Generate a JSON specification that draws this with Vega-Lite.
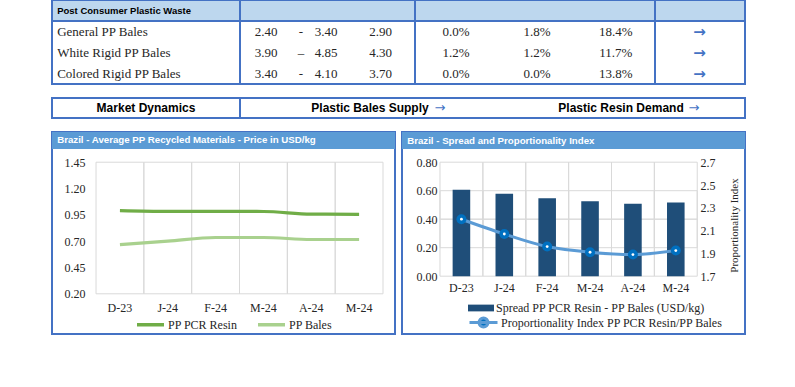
{
  "$schema": "https://vega.github.io/schema/vega-lite/v6.json",
  "padding": {"left": 50, "top": -2, "right": 0, "bottom": 0},
  "background": "white",
  "spacing": 14,
  "bounds": "flush",
  "config": {"view": {"stroke": null}, "font": "Liberation Serif"},
  "vconcat": [
    {
      "width": 693,
      "height": 84,
      "view": {"stroke": "#4472C4", "strokeWidth": 2},
      "data": {"values": [
        {"item": "General PP Bales", "low": 2.40, "sep": "-", "high": 3.40, "avg": 2.90, "ch1": 0.000, "ch2": 0.018, "ch3": 0.184, "trend": "→"},
        {"item": "White Rigid PP Bales", "low": 3.90, "sep": "–", "high": 4.85, "avg": 4.30, "ch1": 0.012, "ch2": 0.012, "ch3": 0.117, "trend": "→"},
        {"item": "Colored Rigid PP Bales", "low": 3.40, "sep": "-", "high": 4.10, "avg": 3.70, "ch1": 0.000, "ch2": 0.000, "ch3": 0.138, "trend": "→"}
      ]},
      "layer": [
        {
          "data": {"values": [{"item": "Post Consumer Plastic Waste"}]},
          "mark": {"type": "rect", "fill": "#BDD7EE", "stroke": "#4472C4", "strokeWidth": 2},
          "encoding": {
            "y": {"field": "item", "type": "nominal", "axis": null, "scale": {"domain": ["Post Consumer Plastic Waste", "General PP Bales", "White Rigid PP Bales", "Colored Rigid PP Bales"], "paddingInner": 0, "paddingOuter": 0}}
          }
        },
        {
          "data": {"values": [{"item": "Post Consumer Plastic Waste"}]},
          "mark": {"type": "text", "align": "left", "font": "Liberation Sans", "fontWeight": "bold", "fontSize": 9.5, "color": "#000000"},
          "encoding": {
            "y": {"field": "item", "type": "nominal"},
            "x": {"datum": 0.75, "type": "quantitative", "axis": null, "scale": {"domain": [0, 100], "nice": false, "zero": false}},
            "text": {"field": "item"}
          }
        },
        {"mark": {"type": "rule", "color": "#4472C4", "strokeWidth": 2}, "encoding": {"x": {"datum": 27.13, "type": "quantitative"}}},
        {"mark": {"type": "rule", "color": "#4472C4", "strokeWidth": 2}, "encoding": {"x": {"datum": 52.38, "type": "quantitative"}}},
        {"mark": {"type": "rule", "color": "#4472C4", "strokeWidth": 2}, "encoding": {"x": {"datum": 87.01, "type": "quantitative"}}},
        {"mark": {"type": "text", "align": "left", "fontSize": 13, "color": "#262626"}, "encoding": {"y": {"field": "item", "type": "nominal"}, "x": {"datum": 0.75, "type": "quantitative"}, "text": {"field": "item"}}},
        {"mark": {"type": "text", "fontSize": 13, "color": "#262626"}, "encoding": {"y": {"field": "item", "type": "nominal"}, "x": {"datum": 30.9, "type": "quantitative"}, "text": {"field": "low", "type": "quantitative", "format": ".2f"}}},
        {"mark": {"type": "text", "fontSize": 13, "color": "#262626"}, "encoding": {"y": {"field": "item", "type": "nominal"}, "x": {"datum": 35.93, "type": "quantitative"}, "text": {"field": "sep"}}},
        {"mark": {"type": "text", "fontSize": 13, "color": "#262626"}, "encoding": {"y": {"field": "item", "type": "nominal"}, "x": {"datum": 39.54, "type": "quantitative"}, "text": {"field": "high", "type": "quantitative", "format": ".2f"}}},
        {"mark": {"type": "text", "fontSize": 13, "color": "#262626"}, "encoding": {"y": {"field": "item", "type": "nominal"}, "x": {"datum": 47.43, "type": "quantitative"}, "text": {"field": "avg", "type": "quantitative", "format": ".2f"}}},
        {"mark": {"type": "text", "fontSize": 13, "color": "#262626"}, "encoding": {"y": {"field": "item", "type": "nominal"}, "x": {"datum": 58.32, "type": "quantitative"}, "text": {"field": "ch1", "type": "quantitative", "format": ".1%"}}},
        {"mark": {"type": "text", "fontSize": 13, "color": "#262626"}, "encoding": {"y": {"field": "item", "type": "nominal"}, "x": {"datum": 69.99, "type": "quantitative"}, "text": {"field": "ch2", "type": "quantitative", "format": ".1%"}}},
        {"mark": {"type": "text", "fontSize": 13, "color": "#262626"}, "encoding": {"y": {"field": "item", "type": "nominal"}, "x": {"datum": 81.36, "type": "quantitative"}, "text": {"field": "ch3", "type": "quantitative", "format": ".1%"}}},
        {"mark": {"type": "text", "fontSize": 15, "fontWeight": "bold", "font": "DejaVu Sans", "color": "#4472C4"}, "encoding": {"y": {"field": "item", "type": "nominal"}, "x": {"datum": 93.43, "type": "quantitative"}, "text": {"field": "trend"}}}
      ]
    },
    {
      "width": 693,
      "height": 20,
      "view": {"stroke": "#4472C4", "strokeWidth": 2},
      "data": {"values": [{"heading": "Market Dynamics", "supply": "Plastic Bales Supply", "demand": "Plastic Resin Demand", "arrow": "→"}]},
      "layer": [
        {"mark": {"type": "rule", "color": "#4472C4", "strokeWidth": 2}, "encoding": {"x": {"datum": 27.13, "type": "quantitative", "axis": null, "scale": {"domain": [0, 100], "nice": false, "zero": false}}}},
        {"mark": {"type": "text", "font": "Liberation Sans", "fontWeight": "bold", "fontSize": 12, "color": "#000000"}, "encoding": {"x": {"datum": 13.56, "type": "quantitative"}, "text": {"field": "heading"}}},
        {"mark": {"type": "text", "font": "Liberation Sans", "fontWeight": "bold", "fontSize": 12, "color": "#000000"}, "encoding": {"x": {"datum": 45.89, "type": "quantitative"}, "text": {"field": "supply"}}},
        {"mark": {"type": "text", "font": "DejaVu Sans", "fontSize": 13, "color": "#4472C4"}, "encoding": {"x": {"datum": 55.99, "type": "quantitative"}, "text": {"field": "arrow"}}},
        {"mark": {"type": "text", "font": "Liberation Sans", "fontWeight": "bold", "fontSize": 12, "color": "#000000"}, "encoding": {"x": {"datum": 82.11, "type": "quantitative"}, "text": {"field": "demand"}}},
        {"mark": {"type": "text", "font": "DejaVu Sans", "fontSize": 13, "color": "#4472C4"}, "encoding": {"x": {"datum": 92.64, "type": "quantitative"}, "text": {"field": "arrow"}}}
      ]
    },
    {
      "spacing": 7,
      "bounds": "flush",
      "hconcat": [
        {
          "width": 343,
          "height": 202,
          "view": {"stroke": "#4472C4", "strokeWidth": 2},
          "data": {"values": [
            {"month": "2023-12", "series": "PP PCR Resin", "price": 0.990},
            {"month": "2024-01", "series": "PP PCR Resin", "price": 0.983},
            {"month": "2024-02", "series": "PP PCR Resin", "price": 0.983},
            {"month": "2024-03", "series": "PP PCR Resin", "price": 0.982},
            {"month": "2024-04", "series": "PP PCR Resin", "price": 0.957},
            {"month": "2024-05", "series": "PP PCR Resin", "price": 0.955},
            {"month": "2023-12", "series": "PP Bales", "price": 0.668},
            {"month": "2024-01", "series": "PP Bales", "price": 0.700},
            {"month": "2024-02", "series": "PP Bales", "price": 0.735},
            {"month": "2024-03", "series": "PP Bales", "price": 0.735},
            {"month": "2024-04", "series": "PP Bales", "price": 0.716},
            {"month": "2024-05", "series": "PP Bales", "price": 0.716}
          ]},
          "layer": [
            {
              "layer": [
                {
                  "data": {"values": [{"part": "header"}]},
                  "mark": {"type": "rect", "fill": "#5B9BD5"},
                  "encoding": {
                    "y": {"datum": 1.7369, "type": "quantitative", "scale": {"domain": [-0.1818, 1.7369], "nice": false, "zero": false}, "axis": {"orient": "left", "offset": -44, "values": [0.2, 0.45, 0.7, 0.95, 1.2, 1.45], "format": ".2f", "domain": false, "ticks": false, "grid": false, "labelPadding": 11, "labelFont": "Liberation Serif", "labelFontSize": 12, "labelColor": "#262626", "title": null}},
                    "y2": {"datum": 1.5754}
                  }
                },
                {
                  "transform": [{"filter": "datum.series === 'PP PCR Resin'"}],
                  "mark": {"type": "rect", "fill": "transparent", "stroke": "#D9D9D9", "strokeWidth": 1},
                  "encoding": {
                    "x": {"field": "month", "type": "nominal", "scale": {"type": "band", "paddingInner": 0, "paddingOuter": 0.5854, "align": 0.786}, "axis": {"orient": "bottom", "offset": -40.2, "labelExpr": "substring('JFMAMJJASOND', toNumber(substring(datum.value, 5, 7)) - 1, toNumber(substring(datum.value, 5, 7))) + '-' + substring(datum.value, 2, 4)", "domain": false, "ticks": false, "grid": false, "labelAngle": 0, "labelPadding": 9, "labelFont": "Liberation Serif", "labelFontSize": 12, "labelColor": "#262626", "title": null}},
                    "y": {"datum": 0.2, "type": "quantitative"},
                    "y2": {"datum": 1.45}
                  }
                },
                {
                  "mark": {"type": "line", "interpolate": "monotone", "strokeWidth": 3.2},
                  "encoding": {
                    "x": {"field": "month", "type": "nominal", "bandPosition": 0.5},
                    "y": {"field": "price", "type": "quantitative"},
                    "color": {"field": "series", "type": "nominal", "scale": {"domain": ["PP PCR Resin", "PP Bales"], "range": ["#70AD47", "#A9D18E"]}, "legend": {"orient": "none", "legendX": 83, "legendY": 309, "direction": "horizontal", "title": null, "symbolType": "stroke", "symbolSize": 729, "symbolStrokeWidth": 3.5, "labelFont": "Liberation Serif", "labelFontSize": 12, "labelColor": "#262626", "labelLimit": 300, "columnPadding": 13, "labelOffset": 2, "padding": 0}}
                  }
                }
              ]
            },
            {
              "data": {"values": [{"heading": "Brazil - Average PP Recycled Materials - Price in USD/kg"}]},
              "mark": {"type": "text", "align": "left", "baseline": "middle", "font": "Liberation Sans", "fontWeight": "bold", "fontSize": 9.7, "color": "#FFFFFF"},
              "encoding": {
                "x": {"datum": 1.5, "type": "quantitative", "axis": null, "scale": {"domain": [0, 100], "nice": false, "zero": false}},
                "y": {"datum": 1.6562, "type": "quantitative"},
                "text": {"field": "heading"}
              }
            }
          ],
          "resolve": {"scale": {"x": "independent"}, "axis": {"x": "independent"}}
        },
        {
          "width": 343,
          "height": 202,
          "view": {"stroke": "#4472C4", "strokeWidth": 2},
          "data": {"values": [
            {"month": "2023-12", "spread": 0.606, "index": 2.20},
            {"month": "2024-01", "spread": 0.578, "index": 2.07},
            {"month": "2024-02", "spread": 0.547, "index": 1.96},
            {"month": "2024-03", "spread": 0.526, "index": 1.91},
            {"month": "2024-04", "spread": 0.508, "index": 1.89},
            {"month": "2024-05", "spread": 0.517, "index": 1.925}
          ]},
          "layer": [
            {
              "layer": [
                {
                  "layer": [
                    {
                      "data": {"values": [{"part": "header"}]},
                      "mark": {"type": "rect", "fill": "#5B9BD5"},
                      "encoding": {
                        "y": {"datum": 1.0119, "type": "quantitative", "scale": {"domain": [-0.4056, 1.0119], "nice": false, "zero": false}, "axis": {"orient": "left", "offset": -43, "values": [0, 0.2, 0.4, 0.6, 0.8], "format": ".2f", "domain": false, "ticks": false, "grid": false, "labelPadding": 8, "labelFont": "Liberation Serif", "labelFontSize": 12, "labelColor": "#262626", "title": null}},
                        "y2": {"datum": 0.8926}
                      }
                    },
                    {
                      "mark": {"type": "rect", "fill": "transparent", "stroke": "#D9D9D9", "strokeWidth": 1},
                      "encoding": {
                        "x": {"field": "month", "type": "nominal", "scale": {"type": "band", "paddingInner": 0, "paddingOuter": 1.183, "align": 0.443}, "axis": {"orient": "bottom", "offset": -57.8, "labelExpr": "substring('JFMAMJJASOND', toNumber(substring(datum.value, 5, 7)) - 1, toNumber(substring(datum.value, 5, 7))) + '-' + substring(datum.value, 2, 4)", "domain": false, "ticks": false, "grid": false, "labelAngle": 0, "labelPadding": 6, "labelFont": "Liberation Serif", "labelFontSize": 12, "labelColor": "#262626", "title": null}},
                        "y": {"datum": 0, "type": "quantitative"},
                        "y2": {"datum": 0.8}
                      }
                    },
                    {
                      "mark": {"type": "rect", "fill": "transparent", "stroke": "#D9D9D9", "strokeWidth": 1},
                      "encoding": {
                        "x": {"field": "month", "type": "nominal"},
                        "y": {"datum": 0.2, "type": "quantitative"},
                        "y2": {"datum": 0.6}
                      }
                    },
                    {
                      "mark": {"type": "rect", "fill": "transparent", "stroke": "#D9D9D9", "strokeWidth": 1},
                      "encoding": {
                        "x": {"field": "month", "type": "nominal"},
                        "y": {"datum": 0.4, "type": "quantitative"},
                        "y2": {"datum": 0.4}
                      }
                    },
                    {
                      "mark": {"type": "bar", "width": {"band": 0.41}},
                      "encoding": {
                        "x": {"field": "month", "type": "nominal"},
                        "y": {"field": "spread", "type": "quantitative"},
                        "fill": {"datum": "Spread PP PCR Resin - PP Bales (USD/kg)", "scale": {"range": ["#1F4E79"]}, "legend": {"orient": "none", "legendX": 416, "legendY": 295, "title": null, "symbolType": "M-1,-0.26H1V0.26H-1Z", "symbolSize": 676, "symbolStrokeWidth": 0, "labelFont": "Liberation Serif", "labelFontSize": 12, "labelColor": "#262626", "labelLimit": 300, "labelOffset": 2, "padding": 0}}
                      }
                    }
                  ]
                },
                {
                  "layer": [
                    {
                      "mark": {"type": "line", "interpolate": "monotone", "strokeWidth": 3},
                      "encoding": {
                        "x": {"field": "month", "type": "nominal", "bandPosition": 0.5},
                        "y": {"field": "index", "type": "quantitative", "scale": {"domain": [1.193, 2.965], "nice": false, "zero": false}, "axis": {"orient": "right", "offset": -54, "values": [1.7, 1.9, 2.1, 2.3, 2.5, 2.7], "format": ".1f", "domain": false, "ticks": false, "grid": false, "labelPadding": 9, "labelFont": "Liberation Serif", "labelFontSize": 12, "labelColor": "#262626", "title": "Proportionality Index", "titleFont": "Liberation Serif", "titleFontSize": 11, "titleFontWeight": "normal", "titleColor": "#262626", "titleAngle": 270, "titleAlign": "center", "titleBaseline": "middle", "titleX": 43, "titleY": 93}},
                        "stroke": {"datum": "Proportionality Index PP PCR Resin/PP Bales", "scale": {"range": ["#5B9BD5"]}, "legend": {"orient": "none", "legendX": 416, "legendY": 307, "title": null, "symbolType": "M-1,0H1M0.32,0A0.32,0.32,0,1,1,-0.32,0A0.32,0.32,0,1,1,0.32,0Z", "symbolSize": 784, "symbolStrokeWidth": 3, "symbolFillColor": "#0070C0", "labelFont": "Liberation Serif", "labelFontSize": 12, "labelColor": "#262626", "labelLimit": 300, "labelOffset": 2, "padding": 0}}
                      }
                    },
                    {
                      "mark": {"type": "circle", "size": 100, "color": "#0070C0", "opacity": 1},
                      "encoding": {
                        "x": {"field": "month", "type": "nominal", "bandPosition": 0.5},
                        "y": {"field": "index", "type": "quantitative"}
                      }
                    },
                    {
                      "mark": {"type": "circle", "size": 8, "color": "#FFFFFF", "opacity": 1},
                      "encoding": {
                        "x": {"field": "month", "type": "nominal", "bandPosition": 0.5},
                        "y": {"field": "index", "type": "quantitative"}
                      }
                    }
                  ]
                }
              ],
              "resolve": {"scale": {"y": "independent"}, "axis": {"y": "independent"}}
            },
            {
              "data": {"values": [{"heading": "Brazil - Spread and Proportionality Index"}]},
              "mark": {"type": "text", "align": "left", "baseline": "middle", "font": "Liberation Sans", "fontWeight": "bold", "fontSize": 9.7, "color": "#FFFFFF"},
              "encoding": {
                "x": {"datum": 1.5, "type": "quantitative", "axis": null, "scale": {"domain": [0, 100], "nice": false, "zero": false}},
                "y": {"datum": 0.9522, "type": "quantitative", "axis": null, "scale": {"domain": [-0.4056, 1.0119], "nice": false, "zero": false}},
                "text": {"field": "heading"}
              }
            }
          ],
          "resolve": {"scale": {"x": "independent", "y": "independent"}, "axis": {"x": "independent", "y": "independent"}}
        }
      ]
    }
  ]
}
